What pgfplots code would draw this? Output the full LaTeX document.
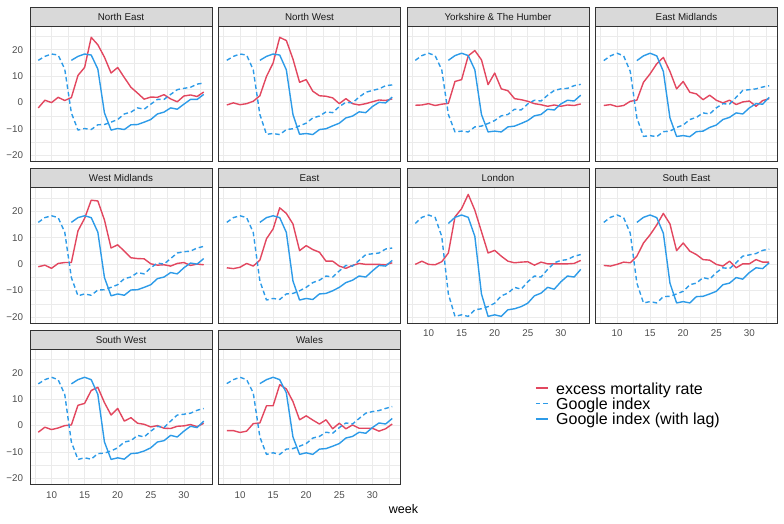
\documentclass[border=0pt]{standalone}
\usepackage{pgfplots}
\pgfplotsset{compat=1.18}
\usepackage{pgfplotstable}
\usepackage{fontspec}
\setmainfont{Liberation Sans}
\definecolor{exred}{HTML}{E2475F}
\definecolor{gblue}{HTML}{2D9BE8}
\definecolor{grey10}{HTML}{1A1A1A}
\definecolor{grey20}{HTML}{333333}
\definecolor{grey30}{HTML}{4D4D4D}
\definecolor{grey85}{HTML}{D9D9D9}
\definecolor{grey92}{HTML}{EBEBEB}

% week excess google lag
\pgfplotstableread{
week excess google lag
8 -2.0 16.0 nan
9 0.9 17.5 nan
10 0 18.4 nan
11 2.0 18.0 nan
12 0.8 12.7 nan
13 1.9 -3.9 16.0
14 10.3 -10.4 17.5
15 13.3 -9.8 18.4
16 24.7 -10.2 18.0
17 21.9 -8.4 12.7
18 17.2 -8.3 -3.9
19 11.2 -7.4 -10.4
20 13.3 -6.4 -9.8
21 9.5 -4.3 -10.2
22 5.8 -3.6 -8.4
23 3.6 -2.0 -8.3
24 1.3 -2.5 -7.4
25 2.1 -0.6 -6.4
26 2.0 1.2 -4.3
27 3.0 1.2 -3.6
28 1.4 3.1 -2.0
29 0.3 4.9 -2.5
30 2.5 5.4 -0.6
31 2.9 5.8 1.2
32 2.3 7.0 1.2
33 4.0 7.4 3.1
}\dNE
\pgfplotstableread{
week excess google lag
8 -0.9 16.0 nan
9 -0.1 17.5 nan
10 -0.8 18.4 nan
11 -0.4 18.0 nan
12 0.5 12.4 nan
13 2.6 -4.5 16.0
14 9.9 -12.0 17.5
15 15.0 -11.7 18.4
16 24.7 -12.1 18.0
17 23.5 -10.2 12.4
18 16.5 -9.9 -4.5
19 7.7 -8.8 -12.0
20 8.7 -7.8 -11.7
21 4.3 -5.8 -12.1
22 2.6 -5.1 -10.2
23 2.4 -3.5 -9.9
24 1.8 -3.8 -8.8
25 -0.4 -1.5 -7.8
26 1.5 0.1 -5.8
27 -0.4 -0.1 -5.1
28 -0.9 2.1 -3.5
29 -0.4 3.9 -3.8
30 0.3 4.6 -1.5
31 1.0 5.2 0.1
32 0.8 6.4 -0.1
33 1.4 6.7 2.1
}\dNW
\pgfplotstableread{
week excess google lag
8 -1.0 16.0 nan
9 -0.9 17.8 nan
10 -0.4 18.7 nan
11 -1.1 17.8 nan
12 -0.6 12.4 nan
13 -0.3 -4.5 16.0
14 8.0 -11.1 17.8
15 8.7 -10.8 18.7
16 17.7 -11.1 17.8
17 19.7 -9.2 12.4
18 16.2 -8.9 -4.5
19 6.8 -7.9 -11.1
20 11.2 -6.8 -10.8
21 5.2 -5.0 -11.1
22 4.5 -4.5 -9.2
23 1.5 -2.5 -8.9
24 1.1 -2.8 -7.9
25 0.5 -0.5 -6.8
26 -0.4 0.9 -5.0
27 -0.8 0.6 -4.5
28 -1.4 2.8 -2.5
29 -0.9 4.6 -2.8
30 -1.4 5.2 -0.5
31 -0.9 5.4 0.9
32 -1.1 6.4 0.6
33 -0.5 6.9 2.8
}\dYH
\pgfplotstableread{
week excess google lag
8 -1.1 15.9 nan
9 -0.75 17.7 nan
10 -1.5 18.7 nan
11 -1.1 17.7 nan
12 0.5 11.8 nan
13 0.9 -5.8 15.9
14 7.7 -12.8 17.7
15 10.9 -12.5 18.7
16 14.7 -12.9 17.7
17 17.1 -11.0 11.8
18 11.8 -10.8 -5.8
19 5.2 -9.4 -12.8
20 8.0 -8.5 -12.5
21 3.9 -6.4 -12.9
22 3.3 -5.6 -11.0
23 1.1 -3.9 -10.8
24 2.8 -4.3 -9.4
25 0.9 -2.0 -8.5
26 -0.1 -0.4 -6.4
27 0.9 -0.6 -5.6
28 -0.75 2.0 -3.9
29 0.25 4.6 -4.3
30 0.6 4.9 -2.0
31 -1.4 5.2 -0.4
32 0.75 5.9 -0.6
33 1.5 6.4 2.0
}\dEM
\pgfplotstableread{
week excess google lag
8 -1.0 15.8 nan
9 -0.4 17.6 nan
10 -1.6 18.3 nan
11 0.25 17.6 nan
12 0.6 12.1 nan
13 0.6 -5.1 15.8
14 12.6 -12.0 17.6
15 17.3 -11.3 18.3
16 24.2 -11.8 17.6
17 23.9 -9.8 12.1
18 16.7 -9.7 -5.1
19 6.1 -8.8 -12.0
20 7.3 -7.8 -11.3
21 4.9 -5.5 -11.8
22 2.4 -4.9 -9.8
23 2.1 -3.2 -9.7
24 2.0 -3.7 -8.8
25 0.1 -1.4 -7.8
26 -0.4 0.4 -5.5
27 -0.25 0.0 -4.9
28 -0.75 2.1 -3.2
29 0.25 4.2 -3.7
30 0.6 4.7 -1.4
31 -0.5 4.9 0.4
32 0.0 6.1 0.0
33 -0.25 6.7 2.1
}\dWM
\pgfplotstableread{
week excess google lag
8 -1.4 15.8 nan
9 -1.7 17.6 nan
10 -1.2 18.3 nan
11 0.25 17.6 nan
12 -0.75 12.0 nan
13 1.5 -6.4 15.8
14 9.6 -13.6 17.6
15 13.3 -13.0 18.3
16 21.3 -13.4 17.6
17 19.2 -11.3 12.0
18 15.2 -11.1 -6.4
19 5.1 -10.1 -13.6
20 7.0 -8.8 -13.0
21 5.5 -7.0 -13.4
22 4.5 -6.1 -11.3
23 1.1 -4.5 -11.1
24 1.1 -4.9 -10.1
25 -0.75 -2.6 -8.8
26 -1.6 -0.5 -7.0
27 -0.5 -0.75 -6.1
28 0.25 1.4 -4.5
29 -0.1 3.6 -4.9
30 -0.1 3.9 -2.6
31 -0.1 4.2 -0.5
32 -0.25 5.7 -0.75
33 0.5 6.1 1.4
}\dE
\pgfplotstableread{
week excess google lag
8 -0.1 15.4 nan
9 1.1 17.7 nan
10 -0.1 18.6 nan
11 -0.25 17.7 nan
12 0.9 10.5 nan
13 4.2 -11.3 15.4
14 17.9 -19.8 17.7
15 21.0 -19.2 18.6
16 26.4 -19.8 17.7
17 20.4 -17.3 10.5
18 12.3 -16.9 -11.3
19 4.2 -16.1 -19.8
20 5.2 -14.8 -19.2
21 3.0 -12.0 -19.8
22 1.1 -11.0 -17.3
23 0.5 -8.8 -16.9
24 0.75 -9.5 -16.1
25 0.9 -6.7 -14.8
26 -0.4 -4.5 -12.0
27 0.75 -4.9 -11.0
28 0.1 -2.0 -8.8
29 0.1 0.5 -9.5
30 0.1 1.4 -6.7
31 0.1 1.7 -4.5
32 0.25 3.0 -4.9
33 1.4 3.6 -2.0
}\dL
\pgfplotstableread{
week excess google lag
8 -0.5 15.8 nan
9 -0.75 17.7 nan
10 -0.1 18.6 nan
11 0.75 17.6 nan
12 0.5 11.7 nan
13 3.0 -7.2 15.8
14 8.0 -14.7 17.7
15 11.1 -14.2 18.6
16 14.8 -14.7 17.6
17 19.2 -12.3 11.7
18 15.2 -12.2 -7.2
19 5.1 -11.3 -14.7
20 8.0 -10.3 -14.2
21 4.9 -7.8 -14.7
22 3.6 -7.2 -12.3
23 1.7 -5.1 -12.2
24 1.5 -5.7 -11.3
25 -0.1 -3.2 -10.3
26 -0.75 -1.4 -7.8
27 1.1 -1.7 -7.2
28 -1.4 0.5 -5.1
29 0.1 3.0 -5.7
30 0.1 3.5 -3.2
31 1.7 4.0 -1.4
32 0.75 5.2 -1.7
33 0.75 5.7 0.5
}\dSE
\pgfplotstableread{
week excess google lag
8 -2.5 15.8 nan
9 -0.6 17.4 nan
10 -1.5 18.3 nan
11 -0.9 17.4 nan
12 0.0 11.8 nan
13 0.25 -6.2 15.8
14 7.7 -12.8 17.4
15 8.4 -12.2 18.3
16 13.3 -12.7 17.4
17 14.5 -10.6 11.8
18 8.7 -10.4 -6.2
19 4.0 -9.6 -12.8
20 6.5 -8.4 -12.2
21 1.7 -6.2 -12.7
22 3.0 -5.7 -10.6
23 0.9 -3.7 -10.4
24 0.5 -4.3 -9.6
25 -0.5 -2.1 -8.4
26 0.0 -0.25 -6.2
27 -1.0 -0.75 -5.7
28 -1.1 1.7 -3.7
29 -0.25 4.0 -4.3
30 -0.1 4.3 -2.1
31 0.4 4.7 -0.25
32 -0.4 5.8 -0.75
33 0.9 6.5 1.7
}\dSW
\pgfplotstableread{
week excess google lag
8 -1.9 15.9 nan
9 -1.9 17.4 nan
10 -2.6 18.3 nan
11 -2.1 17.4 nan
12 0.75 12.4 nan
13 1.0 -4.3 15.9
14 7.5 -10.9 17.4
15 7.5 -10.3 18.3
16 15.5 -10.9 17.4
17 13.9 -8.9 12.4
18 9.1 -8.7 -4.3
19 2.2 -7.8 -10.9
20 3.7 -6.8 -10.3
21 2.1 -4.7 -10.9
22 0.6 -4.1 -8.9
23 2.2 -2.5 -8.7
24 -1.2 -2.9 -7.8
25 0.9 -0.75 -6.8
26 -1.2 1.0 -4.7
27 0.25 0.6 -4.1
28 -1.0 2.7 -2.5
29 -1.0 4.7 -2.9
30 -1.0 5.3 -0.75
31 -2.1 5.7 1.0
32 -1.2 6.5 0.6
33 0.6 7.2 2.7
}\dW

\pgfplotsset{
  panel/.style={
    scale only axis, width=182pt, height=135.5pt, anchor=north west,
    xmin=6.75, xmax=34.25, ymin=-22.3, ymax=29,
    xtick={10,15,20,25,30}, ytick={-20,-10,0,10,20},
    minor xtick={7.5,12.5,17.5,22.5,27.5,32.5},
    minor ytick={-15,-5,5,15,25},
    grid=both,
    major grid style={grey92, line width=0.7pt},
    minor grid style={grey92, line width=0.35pt},
    axis line style={grey20, line width=0.55pt},
    tick align=outside, major tick length=3.5pt, minor tick length=0pt,
    xtick pos=bottom, ytick pos=left,
    xtick style={draw=none}, ytick style={draw=none},
    xticklabels={}, yticklabels={},
    tick label style={font=\fontsize{9.8}{10}\selectfont, text=grey30},
    /pgf/number format/assume math mode=true,
    unbounded coords=discard,
    every axis plot/.append style={line width=1.4pt, line join=round},
  },
  xlab/.style={xticklabels={10,15,20,25,30}, xtick style={grey20, line width=0.55pt}},
  ylab/.style={yticklabels={−20,−10,0,10,20}, ytick style={grey20, line width=0.55pt}},
}

\newcommand\panel[5]{%
  \begin{axis}[panel, at={(#1pt,-#2pt)}, #4]
    \addplot[exred] table[x=week, y=excess] {#3};
    \addplot[gblue, dash pattern=on 4.5pt off 3pt] table[x=week, y=google] {#3};
    \addplot[gblue] table[x=week, y=lag] {#3};
  \end{axis}
  \draw[fill=grey85, draw=grey20, line width=0.55pt] (#1pt,-#2pt) rectangle ++(182pt,19pt);
  \node[font=\fontsize{9.8}{10}\selectfont, text=grey10] at ({#1pt+91pt},{-#2pt+9.5pt}) {#5};
}

\begin{document}
\begin{tikzpicture}
\useasboundingbox (0,0) rectangle (784pt,-523pt);
\panel{30}{26}{\dNE}{ylab}{North East}
\panel{218.5}{26}{\dNW}{}{North West}
\panel{407}{26}{\dYH}{}{Yorkshire \& The Humber}
\panel{595.5}{26}{\dEM}{}{East Midlands}
\panel{30}{187.5}{\dWM}{ylab}{West Midlands}
\panel{218.5}{187.5}{\dE}{}{East}
\panel{407}{187.5}{\dL}{xlab}{London}
\panel{595.5}{187.5}{\dSE}{xlab}{South East}
\panel{30}{349}{\dSW}{ylab,xlab}{South West}
\panel{218.5}{349}{\dW}{xlab}{Wales}

\begin{axis}[at={(535pt,-382.5pt)}, anchor=north west, hide axis, scale only axis,
  width=10pt, height=10pt, xmin=0, xmax=1, ymin=0, ymax=1,
  legend style={at={(0,1)}, anchor=north west, draw=none, fill=none,
    inner sep=0pt, outer sep=0pt, row sep=0pt,
    font=\fontsize{16}{16}\selectfont,
    nodes={inner sep=0pt, text height=11.6pt, text depth=3.7pt},
    /tikz/every odd column/.append style={column sep=7pt}},
  legend cell align=left,
  legend image code/.code={\draw[#1] (0pt,2pt) -- (12.7pt,2pt);}]
  \addlegendimage{exred, line width=1.5pt}
  \addlegendentry{excess mortality rate}
  \addlegendimage{gblue, line width=1.5pt, dash pattern=on 4.5pt off 3pt}
  \addlegendentry{Google index}
  \addlegendimage{gblue, line width=1.5pt}
  \addlegendentry{Google index (with lag)}
\end{axis}

\node[font=\fontsize{12.5}{13}\selectfont, anchor=base] at (403.5pt,-513.3pt) {week};
\end{tikzpicture}
\end{document}
